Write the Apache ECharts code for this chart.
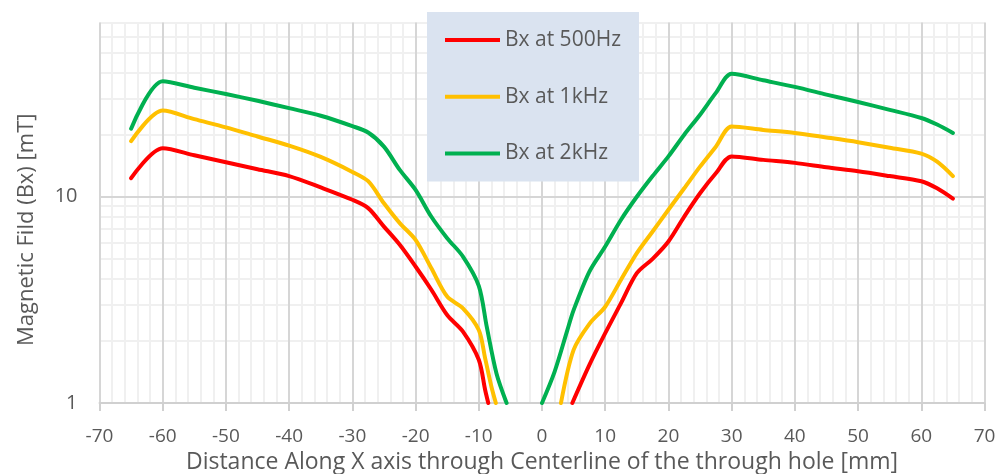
<!DOCTYPE html>
<html>
<head>
<meta charset="utf-8">
<script src="https://cdn.jsdelivr.net/npm/echarts@6/dist/echarts.min.js"></script>
<style>
  html, body { margin: 0; padding: 0; background: #ffffff; }
  #chart { width: 996px; height: 474px; }
</style>
</head>
<body>
<div id="chart"></div>
<script>
// Position along the X axis (mm) and measured Bx (mT) for each excitation frequency.
// A null splits a curve where the field falls under the 1 mT floor of the axis.
const pos500 = [-65, -60, -55, -50, -45, -40, -35, -30, -27.5, -25, -22.5, -20, -17.5, -15, -12.5, -10, -9, -8.5,
                0,
                4.8, 7.5, 10, 12.5, 15, 17.5, 20, 22.5, 25, 27.5, 30, 35, 40, 45, 50, 55, 60, 62.5, 65];
const bx500  = [12.3, 17.2, 15.9, 14.7, 13.6, 12.6, 11.1, 9.67, 8.81, 7.17, 5.85, 4.59, 3.54, 2.67, 2.22, 1.62, 1.16, 1.0,
                null,
                1.0, 1.53, 2.18, 3.05, 4.26, 5.0, 6.07, 8.02, 10.4, 13.0, 15.7, 15.1, 14.6, 13.9, 13.3, 12.6, 11.9, 11.0, 9.8];

const pos1k = [-65, -60, -55, -50, -45, -40, -35, -30, -27.5, -25, -22.5, -20, -17.5, -15, -12.5, -10, -9, -8, -7.3,
               0,
               3, 5, 7.5, 10, 12.5, 15, 17.5, 20, 22.5, 25, 27.5, 30, 35, 40, 45, 50, 55, 60, 62.5, 65];
const bx1k  = [18.6, 26.2, 23.8, 21.7, 19.6, 17.7, 15.6, 13.2, 11.9, 9.3, 7.45, 6.18, 4.5, 3.28, 2.88, 2.26, 1.65, 1.2, 1.0,
               null,
               1.0, 1.81, 2.42, 2.93, 3.96, 5.33, 6.79, 8.65, 11.0, 14.0, 17.5, 21.9, 21.1, 20.4, 19.4, 18.4, 17.3, 16.2, 14.8, 12.6];

const pos2k = [-65, -60, -55, -50, -45, -40, -35, -30, -27.5, -25, -22.5, -20, -17.5, -15, -12.5, -10, -8.75, -7.2, -5.6,
               -3,
               0, 2, 4, 5, 7.5, 10, 12.5, 15, 17.5, 20, 22.5, 25, 27.5, 30, 35, 40, 45, 50, 55, 60, 62.5, 65];
const bx2k  = [21.4, 36.3, 33.8, 31.5, 29.2, 26.9, 24.7, 22.0, 20.5, 17.5, 13.5, 10.8, 8.0, 6.3, 5.13, 3.7, 2.35, 1.39, 1.0,
               null,
               1.0, 1.42, 2.25, 2.82, 4.34, 5.74, 7.74, 10.0, 12.6, 15.7, 20.0, 25.0, 31.9, 39.5, 36.7, 34.1, 31.3, 28.8, 26.4, 24.1, 22.4, 20.4];

const seriesNames = ['Bx at 500Hz', 'Bx at 1kHz', 'Bx at 2kHz'];
const seriesColors = ['#ff0000', '#ffc000', '#00b050'];

// Axis extents and labelled ticks
const xRange = [-70, 70];
const xStep = 10;
const yRange = [1, 70];
const yLabelled = [1, 10];
// Logarithmic minor grid (2..9, 20..70) and the major decade line
const yMinorGrid = [2, 3, 4, 5, 6, 7, 8, 9, 20, 30, 40, 50, 60, 70];
const yMajorGrid = [10];

const FONT = '"Open Sans", Lato, sans-serif';
const TEXT = '#595959';

function pairs(xs, ys) {
  return xs.map((x, i) => [x, ys[i] === null ? '-' : ys[i]]);
}

function gridLines(values, color, z) {
  return {
    silent: true,
    z: z,
    symbol: ['none', 'none'],
    label: { show: false },
    emphasis: { disabled: true },
    animation: false,
    lineStyle: { color: color, width: 2, type: 'solid' },
    data: values.map(v => ({ yAxis: v }))
  };
}

const curves = [[pos500, bx500], [pos1k, bx1k], [pos2k, bx2k]].map((d, i) => ({
  name: seriesNames[i],
  type: 'line',
  z: 3,
  data: pairs(d[0], d[1]),
  smooth: 0.3,
  connectNulls: false,
  showSymbol: false,
  symbol: 'none',
  clip: true,
  color: seriesColors[i],
  lineStyle: { width: 4, color: seriesColors[i], cap: 'round', join: 'round' },
  emphasis: { disabled: true }
}));

const chart = echarts.init(document.getElementById('chart'), null, { renderer: 'canvas' });
chart.setOption({
  animation: false,
  backgroundColor: '#ffffff',
  textStyle: { fontFamily: FONT },
  grid: { left: 99.5, right: 11.5, top: 22.5, bottom: 71, containLabel: false, outerBoundsMode: 'none' },
  legend: {
    data: seriesNames,
    orient: 'vertical',
    left: 427,
    top: 12,
    z: 10,
    backgroundColor: '#dae3f0',
    borderWidth: 0,
    padding: [16, 18, 16, 18],
    itemGap: 32.7,
    itemWidth: 55,
    itemHeight: 4,
    icon: 'rect',
    selectedMode: false,
    textStyle: { color: TEXT, fontSize: 21, fontFamily: FONT, lineHeight: 24 }
  },
  xAxis: {
    type: 'value',
    min: xRange[0],
    max: xRange[1],
    interval: xStep,
    z: 1,
    name: 'Distance Along X axis through Centerline of the through hole [mm]',
    nameLocation: 'middle',
    nameGap: 46,
    nameTextStyle: { color: TEXT, fontSize: 23, fontFamily: FONT },
    axisLine: { show: true, onZero: false, lineStyle: { color: '#d0d0d0', width: 2 } },
    axisTick: { show: true, length: 8, lineStyle: { color: '#d0d0d0', width: 2 } },
    axisLabel: { color: TEXT, fontSize: 19, margin: 24, fontFamily: FONT },
    splitLine: { show: true, lineStyle: { color: '#d6d6d6', width: 2 } },
    minorTick: { show: false, splitNumber: 5 },
    minorSplitLine: { show: true, lineStyle: { color: '#f0f0f0', width: 2 } }
  },
  yAxis: {
    type: 'log',
    logBase: 10,
    min: yRange[0],
    max: yRange[1],
    name: 'Magnetic Fild (Bx) [mT]',
    nameLocation: 'middle',
    nameRotate: 90,
    nameGap: 62,
    nameTextStyle: { color: TEXT, fontSize: 22, fontFamily: FONT, padding: [0, 34, 0, 0] },
    axisLine: { show: false },
    axisTick: { show: true, length: 8, customValues: yLabelled, lineStyle: { color: '#d0d0d0', width: 2 } },
    axisLabel: { color: TEXT, fontSize: 20, margin: 22, fontFamily: FONT, customValues: yLabelled },
    splitLine: { show: false },
    minorSplitLine: { show: false }
  },
  series: [
    { type: 'line', data: [], z: 0, silent: true, markLine: gridLines(yMinorGrid, '#f0f0f0', 0) },
    { type: 'line', data: [], z: 2, silent: true, markLine: gridLines(yMajorGrid, '#d6d6d6', 2) }
  ].concat(curves)
});
</script>
</body>
</html>
